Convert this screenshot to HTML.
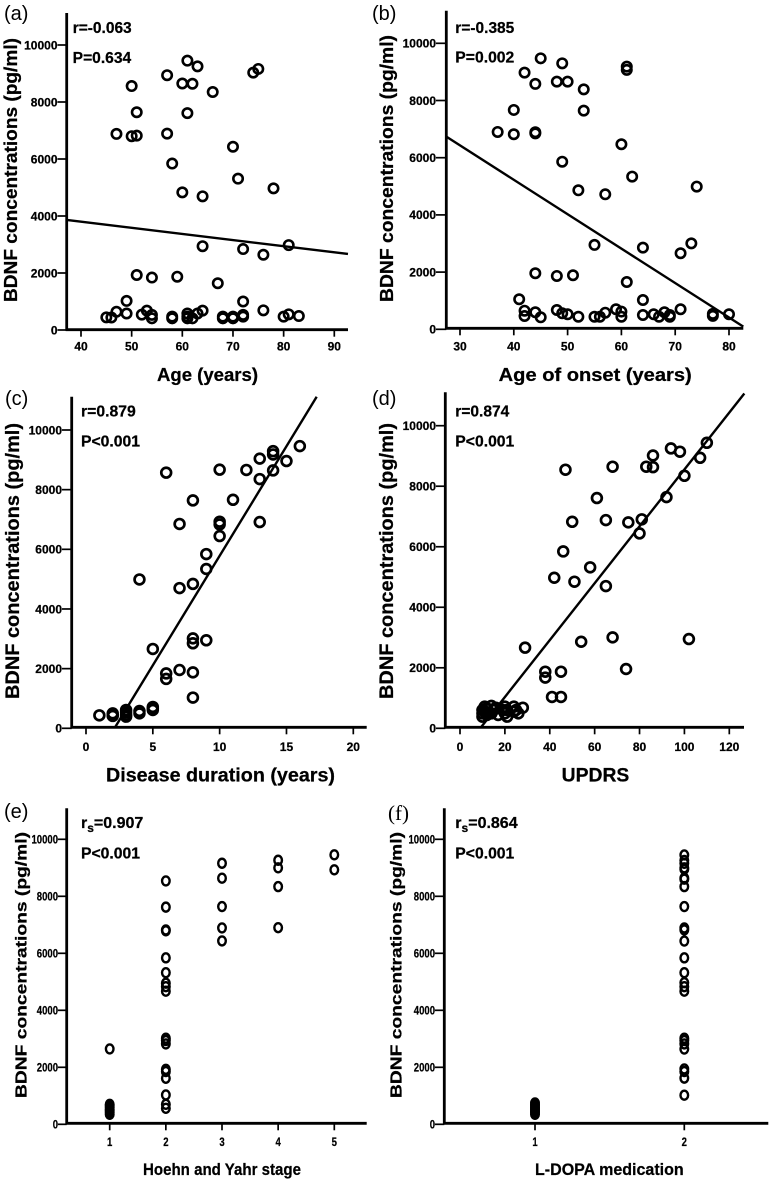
<!DOCTYPE html>
<html lang="en">
<head>
<meta charset="utf-8">
<title>BDNF concentration correlations</title>
<style>
html,body{margin:0;padding:0;background:#fff}
svg{display:block;filter:blur(0.35px)}
text{font-family:"Liberation Sans",Arial,sans-serif;fill:#000}
.bold{font-weight:bold;stroke:#000;stroke-width:0.25px}
.serif{font-family:"Liberation Serif",serif}
</style>
</head>
<body>
<svg id="figure" xmlns="http://www.w3.org/2000/svg" width="772" height="1183" viewBox="0 0 772 1183">
  <rect width="772" height="1183" fill="#fff"/>

  <text x="4" y="20" font-size="20">(a)</text>
  <text x="372" y="20" font-size="20">(b)</text>
  <text x="5" y="405" font-size="20">(c)</text>
  <text x="372" y="405" font-size="20">(d)</text>
  <text x="4" y="818" font-size="20">(e)</text>
  <text class="serif" x="388" y="820" font-size="21">(f)</text>

  <text class="bold" transform="translate(17,302) rotate(-90)" font-size="18" textLength="264" lengthAdjust="spacingAndGlyphs">BDNF concentrations (pg/ml)</text>
  <text class="bold" transform="translate(393,302) rotate(-90)" font-size="18" textLength="267" lengthAdjust="spacingAndGlyphs">BDNF concentrations (pg/ml)</text>
  <text class="bold" transform="translate(19,699) rotate(-90)" font-size="19" textLength="276" lengthAdjust="spacingAndGlyphs">BDNF concentrations (pg/ml)</text>
  <text class="bold" transform="translate(393,699) rotate(-90)" font-size="19" textLength="276" lengthAdjust="spacingAndGlyphs">BDNF concentrations (pg/ml)</text>
  <text class="bold" transform="translate(26.5,1098) rotate(-90)" font-size="15.5" textLength="266" lengthAdjust="spacingAndGlyphs">BDNF concentrations (pg/ml)</text>
  <text class="bold" transform="translate(401.5,1098) rotate(-90)" font-size="15.5" textLength="266" lengthAdjust="spacingAndGlyphs">BDNF concentrations (pg/ml)</text>

  <text class="bold" x="157" y="381" font-size="18" textLength="101" lengthAdjust="spacingAndGlyphs">Age (years)</text>
  <text class="bold" x="498.7" y="381" font-size="18" textLength="193" lengthAdjust="spacingAndGlyphs">Age of onset (years)</text>
  <text class="bold" x="106" y="781.5" font-size="19" textLength="229" lengthAdjust="spacingAndGlyphs">Disease duration (years)</text>
  <text class="bold" x="561.7" y="781.5" font-size="19" textLength="67.6" lengthAdjust="spacingAndGlyphs">UPDRS</text>
  <text class="bold" x="143" y="1175" font-size="17" textLength="158" lengthAdjust="spacingAndGlyphs">Hoehn and Yahr stage</text>
  <text class="bold" x="535" y="1175" font-size="17" textLength="148.7" lengthAdjust="spacingAndGlyphs">L-DOPA medication</text>

  <text class="bold" x="72.7" y="33" font-size="15.5" textLength="59" lengthAdjust="spacingAndGlyphs">r=-0.063</text>
  <text class="bold" x="72.7" y="63" font-size="15.5" textLength="58.5" lengthAdjust="spacingAndGlyphs">P=0.634</text>
  <text class="bold" x="455.3" y="33" font-size="15.5" textLength="59" lengthAdjust="spacingAndGlyphs">r=-0.385</text>
  <text class="bold" x="455.3" y="62.7" font-size="15.5" textLength="59" lengthAdjust="spacingAndGlyphs">P=0.002</text>
  <text class="bold" x="81" y="416.7" font-size="15.5" textLength="54.7" lengthAdjust="spacingAndGlyphs">r=0.879</text>
  <text class="bold" x="81" y="446.7" font-size="15.5" textLength="59" lengthAdjust="spacingAndGlyphs">P&lt;0.001</text>
  <text class="bold" x="455.3" y="416.7" font-size="15.5" textLength="54" lengthAdjust="spacingAndGlyphs">r=0.874</text>
  <text class="bold" x="455.3" y="446.7" font-size="15.5" textLength="59" lengthAdjust="spacingAndGlyphs">P&lt;0.001</text>
  <text class="bold" x="81" y="828" font-size="16">r<tspan dy="4" font-size="12">s</tspan><tspan dy="-4">=0.907</tspan></text>
  <text class="bold" x="81" y="858.3" font-size="15.5" textLength="59" lengthAdjust="spacingAndGlyphs">P&lt;0.001</text>
  <text class="bold" x="455.3" y="828" font-size="16">r<tspan dy="4" font-size="12">s</tspan><tspan dy="-4">=0.864</tspan></text>
  <text class="bold" x="455.3" y="858.3" font-size="15.5" textLength="59" lengthAdjust="spacingAndGlyphs">P&lt;0.001</text>
</svg>

<script>
// ---------- shared axis values ----------
const bdnfTicks = [0, 2000, 4000, 6000, 8000, 10000];

// ---------- panel (a) age ----------
const ageTicks = [40, 50, 60, 70, 80, 90];
const ageX = [45,46,47,47,49,49,50,50,51,51,51,52,53,54,54,54,57,57,58,58,58,59,60,60,61,61,61,61,61,62,62,63,63,64,64,64,66,67,68,68,70,70,70,71,72,72,72,72,74,75,76,76,78,80,81,81,83];
const ageBdnf = [444,440,640,6880,1020,580,8560,6800,7640,6820,1930,540,680,1840,530,410,8940,6890,5840,470,410,1870,8650,4830,9450,7610,580,470,410,8640,410,9250,580,4690,2940,680,8350,1640,470,410,6430,470,410,5310,2840,1000,530,470,9030,9160,2640,690,4970,470,2980,550,490];
const ageFitX = [37.18, 92.7];
const ageFitY = [3860, 2667];

// ---------- panel (b) age of onset ----------
const onsetTicks = [30, 40, 50, 60, 70, 80];
const onsetX = [37,40,40,41,42,42,42,44,44,44,44,44,45,45,48,48,48,49,49,49,50,50,51,52,52,53,53,55,55,56,57,57,59,60,60,60,61,61,61,62,64,64,64,66,67,68,69,69,71,71,73,74,77,77,80];
const onsetBdnf = [6900,7670,6820,1050,8975,650,465,8580,6890,6850,1960,595,9475,420,8660,1865,675,9300,5860,560,8660,525,1890,4860,440,8390,7645,2950,440,440,4720,580,700,6470,620,440,9185,9070,1655,5340,2855,1025,500,525,440,595,500,440,2660,700,3005,4990,540,470,525];
const onsetFitX = [27.46, 82.66];
const onsetFitY = [6737, 93];

// ---------- panel (c) disease duration ----------
const durationTicks = [0, 5, 10, 15, 20];
const durationX = [1,2,2,2,3,3,3,3,4,4,4,5,5,5,5,6,6,6,7,7,7,8,8,8,8,8,8,9,9,9,10,10,10,10,11,12,13,13,13,14,14,14,15,16];
const durationBdnf = [435,500,435,415,615,535,445,390,4990,580,500,715,670,615,2660,8570,1840,1655,6850,4700,1955,7640,4840,3015,2850,1875,1030,5840,5340,2950,8670,6925,6835,6445,7660,8660,9040,8355,6915,9290,9180,8645,8960,9460];
const durationFitX = [2.17, 17.26];
const durationFitY = [33, 11114];

// ---------- panel (d) UPDRS ----------
const updrsTicks = [0, 20, 40, 60, 80, 100, 120];
const updrsX = [10,10,10,11,11,12,12,13,14,14,15,16,17,19,20,20,21,21,24,24,25,26,28,29,38,38,41,45,45,42,46,47,50,51,54,58,61,65,65,68,68,74,75,80,81,83,86,86,92,94,98,100,102,107,110];
const updrsBdnf = [605,495,385,715,550,440,660,495,740,495,605,680,440,605,715,495,385,605,715,550,605,495,680,2665,1870,1675,1035,1035,1870,4975,5845,8545,6825,4845,2860,5320,7610,6880,4700,8645,3005,1960,6805,6440,6905,8645,9015,8630,7640,9250,9140,8345,2950,8940,9435];
const updrsFitX = [9.36, 126.7];
const updrsFitY = [33, 11065];

// ---------- panel (e) Hoehn and Yahr stage ----------
const stageTicks = [1, 2, 3, 4, 5];
const stageX = [1,1,1,1,1,1,1,1,2,2,2,2,2,2,2,2,2,2,2,2,2,2,2,2,2,2,3,3,3,3,3,4,4,4,4,5,5];
const stageBdnf = [2645,700,645,585,525,470,410,350,8540,7620,6820,6790,5840,5320,4950,4830,4670,3020,2940,2820,1930,1850,1615,1030,700,560,9160,8635,7640,6890,6435,9265,9000,8340,6900,9455,8930];

// ---------- panel (f) L-DOPA medication ----------
const dopaTicks = [1, 2];
const dopaX = [1,1,1,1,1,1,1,1,1,2,2,2,2,2,2,2,2,2,2,2,2,2,2,2,2,2,2,2,2,2,2,2,2,2];
const dopaBdnf = [750,700,650,600,550,500,450,400,350,1020,1620,1850,1940,2640,2820,2940,3020,4670,4830,4970,5320,5840,6430,6820,6890,7640,8340,8600,8640,8950,9000,9160,9260,9450];

const panels = [
  {id:'a', left:66.7, top:13, bottom:329.7, right:348, y0:330, y10k:45, xa:40, pxa:81, xb:90, pxb:334.3, ticks:ageTicks, xs:ageX, ys:ageBdnf, fx:ageFitX, fy:ageFitY, labelEnd:57.5, xLabelY:350.5, tickFont:12, charW:0, rx:4.7, ry:4.7, sw:2.6},
  {id:'b', left:446.3, top:10.7, bottom:328.3, right:743.3, y0:329.3, y10k:43.3, xa:30, pxa:460, xb:80, pxb:729, ticks:onsetTicks, xs:onsetX, ys:onsetBdnf, fx:onsetFitX, fy:onsetFitY, labelEnd:436, xLabelY:350.5, tickFont:12, charW:0, rx:4.7, ry:4.7, sw:2.6},
  {id:'c', left:71.7, top:396.7, bottom:727.3, right:366.7, y0:728.3, y10k:430, xa:0, pxa:86, xb:20, pxb:353.3, ticks:durationTicks, xs:durationX, ys:durationBdnf, fx:durationFitX, fy:durationFitY, labelEnd:62, xLabelY:751, tickFont:12, charW:0, rx:4.9, ry:4.9, sw:2.7},
  {id:'d', left:445.3, top:392.3, bottom:727.3, right:744, y0:728.3, y10k:425.7, xa:0, pxa:460, xb:120, pxb:729.3, ticks:updrsTicks, xs:updrsX, ys:updrsBdnf, fx:updrsFitX, fy:updrsFitY, labelEnd:436, xLabelY:751, tickFont:12, charW:0, rx:4.9, ry:4.9, sw:2.7},
  {id:'e', left:66.7, top:808.3, bottom:1123.3, right:366.7, y0:1124.3, y10k:839.3, xa:1, pxa:109.7, xb:5, pxb:334.3, ticks:stageTicks, xs:stageX, ys:stageBdnf, labelEnd:58, xLabelY:1146, tickFont:12, charW:5.3, rx:3.8, ry:4.5, sw:2.4},
  {id:'f', left:444.3, top:808.3, bottom:1123.3, right:768.3, y0:1124.3, y10k:839.3, xa:1, pxa:535, xb:2, pxb:684.3, ticks:dopaTicks, xs:dopaX, ys:dopaBdnf, labelEnd:435, xLabelY:1146, tickFont:12, charW:5.3, rx:3.8, ry:4.5, sw:2.4}
];

const svg = document.getElementById('figure');
const NS = 'http://www.w3.org/2000/svg';

function make(tag, attrs, parent) {
  const el = document.createElementNS(NS, tag);
  for (const k in attrs) el.setAttribute(k, attrs[k]);
  parent.appendChild(el);
  return el;
}

panels.forEach(function (p) {
  const xScale = function (v) { return p.pxa + (v - p.xa) * (p.pxb - p.pxa) / (p.xb - p.xa); };
  const yScale = function (v) { return p.y0 + (p.y10k - p.y0) * v / 10000; };

  const group = make('g', {}, svg);
  
  

  const yAxis = make('line', {x1:p.left, x2:p.left, y1:p.top, y2:p.bottom + 1, stroke:'#000', 'stroke-width':2.8}, group);
  
  

  const xAxis = make('line', {x1:p.left - 1, x2:p.right, y1:p.bottom, y2:p.bottom, stroke:'#000', 'stroke-width':2.8}, group);
  
  

  bdnfTicks.forEach(function (t) {
    const yy = yScale(t);
    const tick = make('line', {x1:p.labelEnd, x2:p.left, y1:yy, y2:yy, stroke:'#000', 'stroke-width':1.7}, group);
    
    
    const label = make('text', {x:p.labelEnd, y:yy + 4.3, 'text-anchor':'end', 'font-size':p.tickFont, class:'bold'}, group);
    label.textContent = t;
    if (p.charW) {
      label.setAttribute('textLength', String(t).length * p.charW);
      label.setAttribute('lengthAdjust', 'spacingAndGlyphs');
    }
    
    
  });

  p.ticks.forEach(function (t) {
    const xx = xScale(t);
    const tick = make('line', {x1:xx, x2:xx, y1:p.bottom, y2:p.bottom + 7, stroke:'#000', 'stroke-width':1.7}, group);
    
    
    const label = make('text', {x:xx, y:p.xLabelY, 'text-anchor':'middle', 'font-size':p.tickFont, class:'bold'}, group);
    label.textContent = t;
    if (p.charW) {
      label.setAttribute('textLength', String(t).length * p.charW);
      label.setAttribute('lengthAdjust', 'spacingAndGlyphs');
    }
    
    
  });

  p.xs.forEach(function (v, i) {
    const point = make('ellipse', {cx:xScale(v), cy:yScale(p.ys[i]), rx:p.rx, ry:p.ry, fill:'none', stroke:'#000', 'stroke-width':p.sw}, group);
    
    
  });

  if (p.fx) {
    const fit = make('line', {x1:xScale(p.fx[0]), y1:yScale(p.fy[0]), x2:xScale(p.fx[1]), y2:yScale(p.fy[1]), stroke:'#000', 'stroke-width':2.4}, group);
    
    
  }
});
</script>
</body>
</html>
